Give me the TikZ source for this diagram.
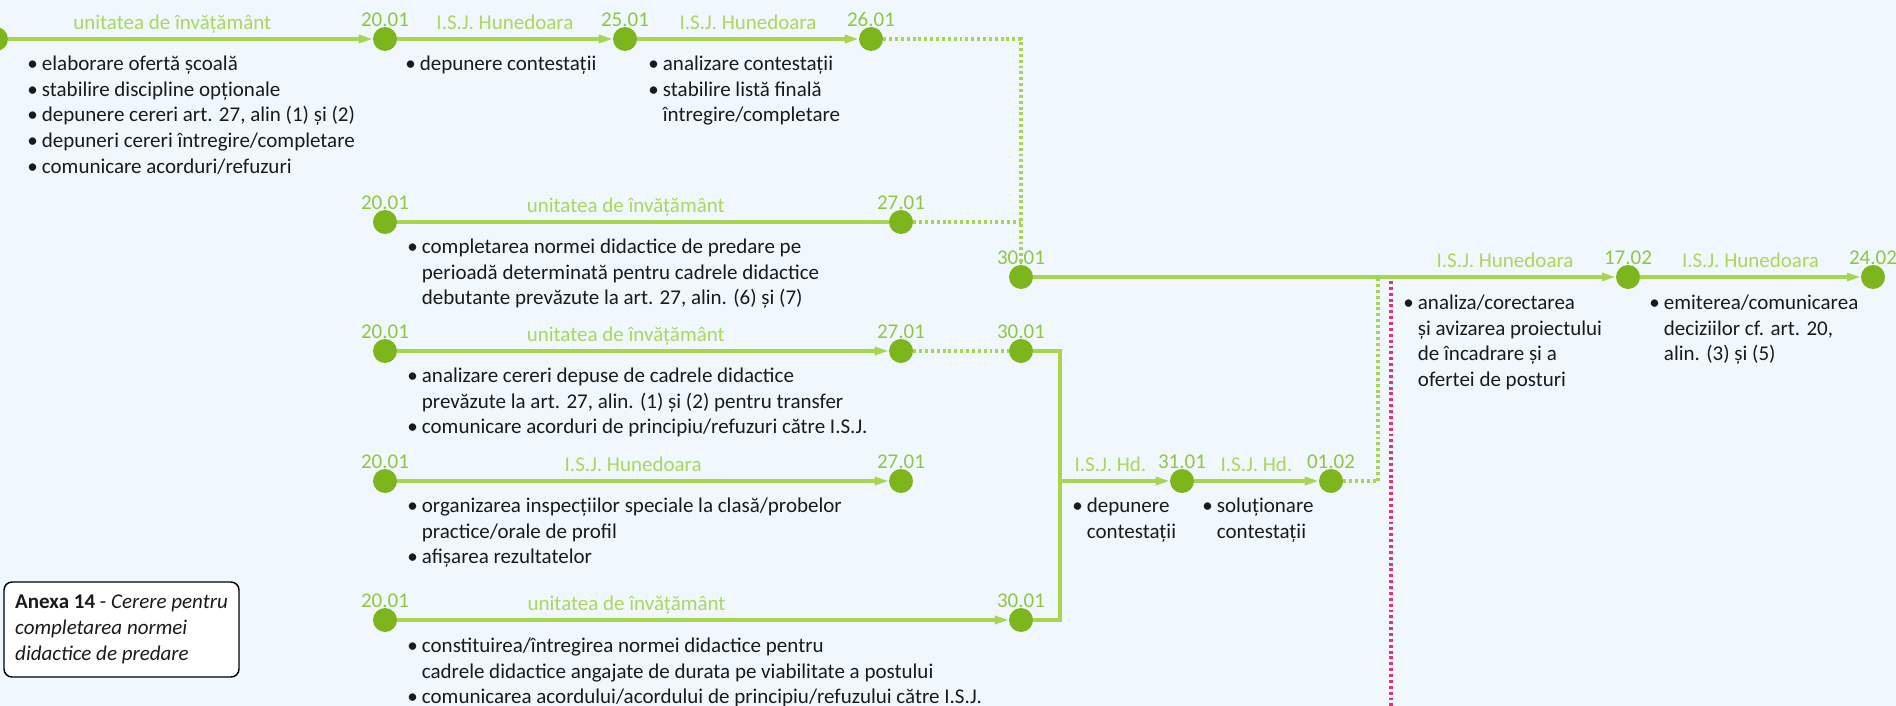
\documentclass[tikz,border=0pt]{standalone}
\usepackage{fontspec}
\setmainfont{Carlito}
\usetikzlibrary{arrows.meta}

\definecolor{bgblue}{HTML}{F0F8FE}
\definecolor{lineg}{HTML}{A6D64E}
\definecolor{dayg}{HTML}{7CB51C}
\definecolor{dateg}{HTML}{8FC742}
\definecolor{labg}{HTML}{A9D85C}
\definecolor{pinkr}{HTML}{E8336E}
\definecolor{ink}{HTML}{1A1A1A}

\newcommand{\bul}{\strut\makebox[11pt][l]{\textbullet}}
\newcommand{\ind}{\hspace*{11pt}}

\begin{document}
\begin{tikzpicture}[x=0.75pt,y=-0.75pt]
    \tikzset{every node/.style={font=\fontsize{15.75}{19.3}\selectfont}}
    \tikzset{ball/.style={circle,fill=dayg,minimum size=18pt,inner sep=0pt}}
    \tikzset{day/.style={ball,label distance=6.75pt,label={[date]above:#1}}}
    \tikzset{date/.style={text=dateg,inner sep=0pt}}
    \tikzset{edge/.style={line width=2.4pt,draw=lineg}}
    \tikzset{arr/.style={edge,-{Triangle[length=10.5pt,width=6pt]}}}
    \tikzset{dots/.style={line width=2.4pt,draw=lineg,dash pattern=on 2.2pt off 2.2pt}}
    \tikzset{elab/.style={text=labg,anchor=base,inner sep=0pt,yshift=7.1pt}}
    \tikzset{body/.style={anchor=north west,align=left,inner sep=0pt,text=ink}}
    \tikzset{anexa/.style={draw=black,fill=white,line width=1.1pt,rounded corners=6pt,
        align=left,minimum width=176.25pt,minimum height=71.25pt,text=ink}}

    \fill[bgblue] (0,0) rectangle (1896,706);
    \useasboundingbox (0,0) rectangle (1896,706);

    % first row
    \node[ball] (a0) at (-4,39) {};
    \node[day=20.01] (a1) at (385,39) {};
    \node[day=25.01] (a2) at (625,39) {};
    \node[day=26.01] (a3) at (871,39) {};

    % left rows
    \node[day=20.01] (b1) at (385,222) {};
    \node[day=27.01] (b2) at (901,222) {};
    \node[day=20.01] (c1) at (385,351) {};
    \node[day=27.01] (c2) at (901,351) {};
    \node[day=30.01] (c3) at (1021,351) {};
    \node[day=20.01] (d1) at (385,481) {};
    \node[day=27.01] (d2) at (901,481) {};
    \node[day=20.01] (e1) at (385,620) {};
    \node[day=30.01] (e2) at (1021,620) {};

    % contestatii
    \node[day=31.01] (f1) at (1182,481) {};
    \node[day=01.02] (f2) at (1331,481) {};

    % main line
    \node[day=30.01] (m1) at (1021,277) {};
    \node[day=17.02] (h1) at (1628,277) {};
    \node[day=24.02] (h2) at (1873,277) {};

    \coordinate (jb) at (1060,620);
    \coordinate (jm) at (1060,481);
    \coordinate (gj) at (1378,277);
    \coordinate (rt) at (1391,281);
    \coordinate (rb) at (1391,706);

    \draw[arr] (a0) -- node[elab,pos=.45] {unitatea de învățământ} (a1);
    \draw[arr] (a1) -- node[elab] {I.S.J. Hunedoara} (a2);
    \draw[arr] (a2) -- node[elab] {I.S.J. Hunedoara} (a3);
    \draw[edge] (b1) -- node[elab,pos=.465] {unitatea de învățământ} (b2);
    \draw[arr] (c1) -- node[elab,pos=.465] {unitatea de învățământ} (c2);
    \draw[arr] (d1) -- node[elab,pos=.48] {I.S.J. Hunedoara} (d2);
    \draw[arr] (e1) -- node[elab,pos=.375] {unitatea de învățământ} (e2);
    \draw[edge] (c3) -| (jb) -- (e2);
    \draw[arr] (jm) -- node[elab,pos=.46] {I.S.J. Hd.} (f1);
    \draw[arr] (f1) -- node[elab] {I.S.J. Hd.} (f2);
    \draw[arr] (m1) -- node[elab,pos=.81] {I.S.J. Hunedoara} (h1);
    \draw[arr] (h1) -- node[elab] {I.S.J. Hunedoara} (h2);

    \draw[dots] (a3) -| (m1);
    \draw[dots] (b2) -- (b2 -| m1);
    \draw[dots] (c2) -- (c3);
    \draw[dots] (f2) -| (gj);
    \draw[dots,draw=pinkr] (rt) -- (rb);

    % activities
    \node[body] (t1) at (27,52) {\bul elaborare ofertă școală\\
        \bul stabilire discipline opționale\\
        \bul depunere cereri art. 27, alin (1) și (2)\\
        \bul depuneri cereri întregire/completare\\
        \bul comunicare acorduri/refuzuri};
    \node[body] (t2) at (405,52) {\bul depunere contestații};
    \node[body] (t3) at (648,52) {\bul analizare contestații\\
        \bul stabilire listă finală\\
        \ind întregire/completare};
    \node[body] (t4) at (407,235) {\bul completarea normei didactice de predare pe\\
        \ind perioadă determinată pentru cadrele didactice\\
        \ind debutante prevăzute la art. 27, alin. (6) și (7)};
    \node[body] (t5) at (407,364) {\bul analizare cereri depuse de cadrele didactice\\
        \ind prevăzute la art. 27, alin. (1) și (2) pentru transfer\\
        \bul comunicare acorduri de principiu/refuzuri către I.S.J.};
    \node[body] (t6) at (407,494) {\bul organizarea inspecțiilor speciale la clasă/probelor\\
        \ind practice/orale de profil\\
        \bul afișarea rezultatelor};
    \node[body] (t7) at (407,634) {\bul constituirea/întregirea normei didactice pentru\\
        \ind cadrele didactice angajate de durata pe viabilitate a postului\\
        \bul comunicarea acordului/acordului de principiu/refuzului către I.S.J.};
    \node[body] (t8) at (1072,494) {\bul depunere\\ \ind contestații};
    \node[body] (t9) at (1202,494) {\bul soluționare\\ \ind contestații};
    \node[body] (t10) at (1403,291) {\bul analiza/corectarea\\
        \ind și avizarea proiectului\\
        \ind de încadrare și a\\
        \ind ofertei de posturi};
    \node[body] (t11) at (1649,291) {\bul emiterea/comunicarea\\
        \ind deciziilor cf. art. 20,\\
        \ind alin. (3) și (5)};

    \node[anexa] (ax) at (121.5,629.5) {\textbf{Anexa 14} - \textit{Cerere pentru}\\
        \textit{completarea normei}\\ \textit{didactice de predare}};
\end{tikzpicture}
\end{document}
